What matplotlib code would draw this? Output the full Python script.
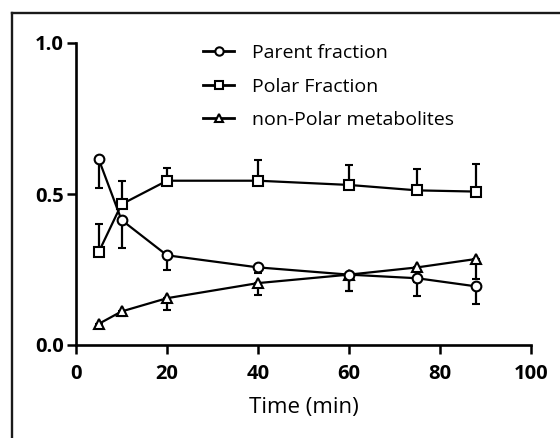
import matplotlib
matplotlib.use("Agg")
import matplotlib.pyplot as plt
from matplotlib.lines import Line2D

plt.rcParams['font.family'] = ['Open Sans', 'DejaVu Sans']

time = [5, 10, 20, 40, 60, 75, 88]
parent = [0.615, 0.414, 0.297, 0.257, 0.233, 0.221, 0.194]
parent_err = [0.096, 0.092, 0.049, 0.02, 0.055, 0.058, 0.058]
polar = [0.308, 0.466, 0.544, 0.544, 0.530, 0.512, 0.508]
polar_err = [0.093, 0.078, 0.042, 0.068, 0.066, 0.070, 0.091]
nonpolar = [0.070, 0.111, 0.155, 0.205, 0.233, 0.257, 0.285]
nonpolar_err = [0.0, 0.016, 0.039, 0.040, 0.055, 0.050, 0.068]

labels = ["Parent fraction", "Polar Fraction", "non-Polar metabolites"]
markers = ['o', 's', '^']
xticks = [0, 20, 40, 60, 80, 100]
yticks = [0.0, 0.5, 1.0]

W, H = 560, 438
fig = plt.figure(figsize=(W / 100, H / 100), dpi=100)
ax = fig.add_axes([76 / W, (H - 345) / H, (531 - 76) / W, (345 - 43) / H])

zeros = [0] * len(time)
common = dict(color='black', lw=1.6, ms=7, mew=1.5, mfc='white', mec='black',
              ecolor='black', elinewidth=1.6, capsize=3, capthick=1.6)

ax.errorbar(time, polar, yerr=[zeros, polar_err], marker=markers[1], zorder=3, **common)
ax.errorbar(time, nonpolar, yerr=[nonpolar_err, zeros], marker=markers[2], zorder=3, **common)
ax.errorbar(time, parent, yerr=[parent_err, zeros], marker=markers[0], zorder=4, **common)

ax.set_xlim(0, 100)
ax.set_ylim(0, 1.0)
ax.set_xticks(xticks)
ax.set_yticks(yticks)
ax.set_xticklabels([str(v) for v in xticks], fontweight='bold', fontsize=14.5)
ax.set_yticklabels([f"{v:.1f}" for v in yticks], fontweight='bold', fontsize=14.5)
ax.tick_params(direction='out', length=6.5, width=1.8)
ax.tick_params(axis='x', pad=7.5)
ax.tick_params(axis='y', pad=2.5)
for s in ['top', 'right']:
    ax.spines[s].set_visible(False)
for s in ['left', 'bottom']:
    ax.spines[s].set_linewidth(1.9)
ax.spines['left'].set_bounds(0, 1.0)
ax.spines['bottom'].set_bounds(0, 100)
ax.set_xlabel("Time (min)", fontsize=16, labelpad=9)

handles = [Line2D([], [], color='black', lw=2, marker=m, ms=6, mew=1.5, mfc='white', mec='black')
           for m in markers]
leg = ax.legend(handles, labels, loc='upper left',
                bbox_to_anchor=(203 / W, 1 - 44 / H), bbox_transform=fig.transFigure,
                frameon=False, fontsize=14, handlelength=1.6,
                handletextpad=0.9, labelspacing=0.8, borderpad=0, borderaxespad=0)

# outer frame (left and top)
fig.add_artist(Line2D([12 / W, 12 / W], [0, 1 - 13 / H], transform=fig.transFigure, color='#1a1a1a', lw=1.7))
fig.add_artist(Line2D([12 / W, 1], [1 - 13 / H, 1 - 13 / H], transform=fig.transFigure, color='#1a1a1a', lw=1.7))

fig.savefig("out.png", dpi=100)
